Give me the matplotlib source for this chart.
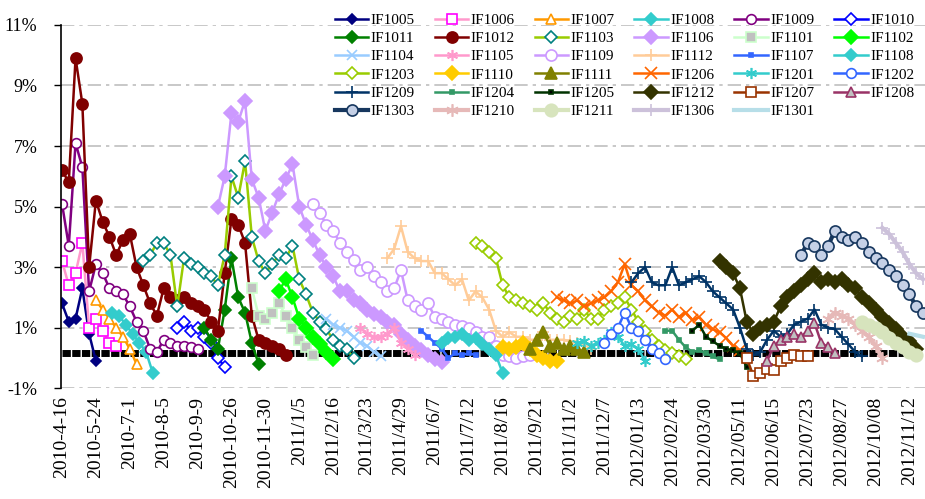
import numpy as np
import matplotlib
matplotlib.use('Agg')
import matplotlib.pyplot as plt

plt.rcParams['font.family'] = ['Liberation Serif', 'DejaVu Serif']

# trading-day index of every 25th session, used as category labels
date_labels = ['2010-4-16', '2010-5-24', '2010-7-1', '2010-8-5', '2010-9-9',
               '2010-10-26', '2010-11-30', '2011/1/5', '2011/2/16', '2011/3/23',
               '2011/4/29', '2011/6/7', '2011/7/12', '2011/8/16', '2011/9/21',
               '2011/11/2', '2011/12/7', '2012/01/13', '2012/02/24', '2012/03/30',
               '2012/05/11', '2012/06/15', '2012/07/23', '2012/08/27', '2012/10/08',
               '2012/11/12']
label_every = 25
STEP = 5   # values below are read every 5 trading days

contracts = ['IF1005', 'IF1006', 'IF1007', 'IF1008', 'IF1009', 'IF1010',
             'IF1011', 'IF1012', 'IF1103', 'IF1106', 'IF1101', 'IF1102',
             'IF1104', 'IF1105', 'IF1109', 'IF1112', 'IF1107', 'IF1108',
             'IF1203', 'IF1110', 'IF1111', 'IF1206', 'IF1201', 'IF1202',
             'IF1209', 'IF1204', 'IF1205', 'IF1212', 'IF1207', 'IF1208',
             'IF1303', 'IF1210', 'IF1211', 'IF1306', 'IF1301']
starts = [0, 0, 25, 37, 0, 85,
          105, 0, 60, 115, 140, 160,
          195, 220, 185, 240, 265, 280,
          305, 325, 345, 365, 380, 400,
          420, 445, 465, 485, 505, 520,
          545, 565, 590, 605, 625]

if1005 = [1.8, 1.2, 1.3, 2.3, 0.8, -0.1]
if1006 = [3.2, 2.4, 2.8, 3.8, 1.0, 1.3, 0.9, 0.5, 0.4]
if1007 = [1.9, 1.6, 1.3, 1.0, 0.7, 0.3, -0.2]
if1008 = [1.5, 1.4, 1.1, 0.8, 0.5, 0.2, -0.5]
if1009 = [5.1, 3.7, 7.1, 6.3, 2.2, 3.1, 2.8, 2.3, 2.2, 2.1, 1.7, 1.2, 0.9, 0.3,
          0.2, 0.6, 0.5, 0.4, 0.4, 0.35, 0.3]
if1010 = [1.0, 1.2, 0.9, 1.0, 0.7, 0.5, 0.0, -0.3]
if1011 = [1.0, 0.6, 0.3, 1.6, 3.3, 2.0, 1.5, 0.5, -0.2]
if1012 = [6.2, 5.8, 9.9, 8.4, 3.0, 5.2, 4.5, 4.0, 3.4, 3.9, 4.1, 3.0, 2.4, 1.8,
          1.4, 2.3, 2.0, 1.9, 2.0, 1.8, 1.7, 1.6, 1.2, 0.9, 2.8, 4.6, 4.4, 3.8,
          1.4, 0.6, 0.5, 0.4, 0.3, 0.1]
if1103 = [3.2, 3.4, 3.8, 3.8, 3.4, 1.7, 3.3, 3.1, 3.0, 2.8, 2.7, 2.4, 3.4, 6.0,
          5.3, 6.5, 4.0, 3.2, 2.8, 3.1, 3.4, 3.3, 3.7, 2.6, 2.1, 1.5, 1.2, 0.95,
          0.6, 0.4, 0.3, 0.0]
if1106 = [5.0, 6.0, 8.1, 7.8, 8.5, 5.9, 5.3, 4.2, 4.8, 5.4, 5.9, 6.4, 5.0, 4.4,
          3.9, 3.4, 3.0, 2.7, 2.2, 2.2, 1.9, 1.8, 1.6, 1.45, 1.35, 1.2, 1.1, 0.8,
          0.6, 0.4, 0.25, 0.1, -0.05, -0.15]
if1101 = [2.3, 1.4, 1.3, 1.5, 1.8, 1.4, 1.0, 0.6, 0.35, 0.1]
if1102 = [2.2, 2.6, 2.0, 1.3, 1.0, 0.7, 0.45, 0.2, -0.05]
if1104 = [1.3, 1.1, 1.0, 0.9, 0.7, 0.5, 0.4, 0.2, 0.05]
if1105 = [1.0, 0.8, 0.7, 0.7, 0.8, 1.0, 0.5, 0.3, 0.1]
if1109 = [5.1, 4.8, 4.4, 4.2, 3.8, 3.5, 3.25, 2.9, 3.0, 2.7, 2.5, 2.2, 2.3, 2.9,
          1.9, 1.7, 1.6, 1.8, 1.35, 1.3, 1.2, 1.1, 1.05, 1.0, 0.85, 0.7, 0.7,
          0.4, 0.1, 0.05, 0.0, 0.05, 0.1]
if1112 = [3.3, 3.6, 4.35, 3.5, 3.3, 3.2, 3.2, 2.8, 2.8, 2.6, 2.4, 2.6, 1.9, 2.2,
          2.0, 1.6, 0.9, 0.7, 0.85, 0.7, 0.7, 0.6, 0.6, 0.85, 0.6, 0.6, 0.6,
          0.55, 0.5, 0.45, 0.3]
if1107 = [0.9, 0.7, 0.5, 0.3, 0.0, 0.15, 0.1, 0.15, 0.1]
if1108 = [0.5, 0.65, 0.7, 0.8, 0.6, 0.65, 0.45, 0.3, 0.1, -0.5]
if1203 = [3.8, 3.7, 3.5, 3.3, 2.4, 2.0, 1.9, 1.8, 1.7, 1.6, 1.8, 1.5, 1.3, 1.2,
          1.4, 1.3, 1.6, 1.3, 1.3, 1.6, 1.7, 1.8, 2.0, 1.6, 1.2, 0.9, 0.6, 0.4,
          0.25, 0.15, 0.05, -0.05]
if1110 = [0.35, 0.3, 0.35, 0.5, 0.3, 0.1, 0.0, -0.1, -0.1]
if1111 = [0.3, 0.6, 0.85, 0.4, 0.5, 0.3, 0.4, 0.3, 0.2]
if1206 = [2.0, 1.9, 1.8, 1.9, 1.7, 1.8, 1.9, 2.0, 2.2, 2.5, 3.1, 2.4, 2.2, 1.9,
          1.7, 1.5, 1.4, 1.6, 1.35, 1.5, 1.25, 1.35, 1.1, 0.95, 0.85, 0.65, 0.4,
          0.25]
if1201 = [0.5, 0.55, 0.4, 0.5, 0.6, 0.85, 0.7, 0.4, 0.45, 0.3, -0.1]
if1202 = [0.5, 0.8, 1.0, 1.5, 1.0, 0.9, 0.6, 0.3, 0.15, -0.05]
if1209 = [2.5, 2.8, 3.0, 2.5, 2.4, 2.4, 3.0, 2.4, 2.5, 2.6, 2.7, 2.5, 2.2, 2.0,
          1.8, 1.6, 1.0, 0.3, 0.1, 0.2, 0.6, 0.9, 0.7, 0.8, 1.1, 1.2, 1.3, 1.6,
          1.1, 1.0, 0.95, 0.7, 0.45, 0.2, 0.05]
if1204 = [0.9, 0.9, 0.6, 0.35, 0.2, 0.25, 0.15, 0.05, -0.05]
if1205 = [0.9, 1.1, 0.7, 0.55, 0.4, 0.3, 0.25, 0.15, -0.3]
if1212 = [3.2, 3.0, 2.8, 2.3, 1.2, 0.8, 1.0, 1.1, 1.2, 1.7, 2.0, 2.2, 2.4, 2.6,
          2.8, 2.5, 2.6, 2.5, 2.6, 2.4, 2.3, 2.0, 1.8, 1.6, 1.35, 1.15, 0.95,
          0.7, 0.55, 0.3]
if1207 = [0.0, -0.6, -0.5, -0.35, -0.4, -0.1, 0.0, 0.1, 0.05, 0.05]
if1208 = [-0.1, 0.4, 0.6, 0.7, 0.8, 0.7, 0.9, 1.15, 0.5, 0.35, 0.15]
if1303 = [3.4, 3.8, 3.7, 3.4, 3.7, 4.2, 4.0, 3.9, 4.0, 3.8, 3.5, 3.3, 3.15, 2.9,
          2.7, 2.4, 2.1, 1.7, 1.5]
if1210 = [1.3, 1.5, 1.4, 1.3, 1.1, 0.9, 0.7, 0.4, 0.0]
if1211 = [1.2, 1.1, 1.0, 0.85, 0.65, 0.5, 0.35, 0.2, 0.1]
if1306 = [4.3, 4.1, 3.8, 3.5, 3.1, 2.8, 2.6]
if1301 = [0.8, 0.75, 0.7]

values = [if1005, if1006, if1007, if1008, if1009, if1010,
          if1011, if1012, if1103, if1106, if1101, if1102,
          if1104, if1105, if1109, if1112, if1107, if1108,
          if1203, if1110, if1111, if1206, if1201, if1202,
          if1209, if1204, if1205, if1212, if1207, if1208,
          if1303, if1210, if1211, if1306, if1301]

# black reference level drawn along the whole period
base_level = 0.15
base_span = [0, 630]

ast = (6, 2, 0)
# line colour, marker, size, face, edge, line width
styles = {
    'IF1005': ('#000080', 'D', 5, '#000080', '#000080', 1.8),
    'IF1006': ('#FF99CC', 's', 7, 'white', '#FF00FF', 1.8),
    'IF1007': ('#FF9900', '^', 7, 'white', '#FF9900', 1.8),
    'IF1008': ('#33CCCC', 'D', 6, '#33CCCC', '#33CCCC', 1.8),
    'IF1009': ('#800080', 'o', 7, 'white', '#800080', 1.8),
    'IF1010': ('#0000FF', 'D', 6, 'white', '#0000FF', 1.8),
    'IF1011': ('#008000', 'D', 6, '#008000', '#008000', 1.8),
    'IF1012': ('#800000', 'o', 8, '#800000', '#800000', 1.8),
    'IF1103': ('#99CC00', 'D', 6, 'white', '#008080', 1.8),
    'IF1106': ('#CC99FF', 'D', 7, '#CC99FF', '#CC99FF', 1.8),
    'IF1101': ('#CCFFCC', 's', 7, '#C0C0C0', '#CCFFCC', 1.8),
    'IF1102': ('#00FF00', 'D', 7, '#00FF00', '#00FF00', 1.8),
    'IF1104': ('#99CCFF', 'x', 7, '#99CCFF', '#99CCFF', 1.8),
    'IF1105': ('#FF99CC', ast, 8, '#FF99CC', '#FF99CC', 1.8),
    'IF1109': ('#CC99FF', 'o', 8, 'white', '#CC99FF', 1.8),
    'IF1112': ('#FFCC99', '+', 9, '#FFCC99', '#FFCC99', 1.8),
    'IF1107': ('#3366FF', 's', 3, '#3366FF', '#3366FF', 1.8),
    'IF1108': ('#33CCCC', 'D', 6, '#33CCCC', '#33CCCC', 1.8),
    'IF1203': ('#99CC00', 'D', 6, 'white', '#99CC00', 1.8),
    'IF1110': ('#FFCC00', 'D', 7, '#FFCC00', '#FFCC00', 1.8),
    'IF1111': ('#808000', '^', 8, '#808000', '#808000', 1.8),
    'IF1206': ('#FF6600', 'x', 8, '#FF6600', '#FF6600', 1.8),
    'IF1201': ('#33CCCC', ast, 8, '#33CCCC', '#33CCCC', 1.8),
    'IF1202': ('#3366FF', 'o', 7, 'white', '#3366FF', 1.8),
    'IF1209': ('#003366', '+', 9, '#003366', '#003366', 1.8),
    'IF1204': ('#339966', 's', 3, '#339966', '#339966', 1.8),
    'IF1205': ('#003300', 's', 3, '#000000', '#003300', 1.8),
    'IF1212': ('#333300', 'D', 7, '#333300', '#333300', 1.8),
    'IF1207': ('#993300', 's', 7, 'white', '#993300', 1.8),
    'IF1208': ('#993366', '^', 7, '#C0C0C0', '#993366', 1.8),
    'IF1303': ('#17375E', 'o', 8, '#C5D0E6', '#17375E', 3.0),
    'IF1210': ('#E6B9B8', ast, 9, '#E6B9B8', '#E6B9B8', 3.0),
    'IF1211': ('#D7E4BD', 'o', 9, '#D7E4BD', '#D7E4BD', 3.0),
    'IF1306': ('#CCC1DA', '+', 9, '#CCC1DA', '#CCC1DA', 3.0),
    'IF1301': ('#B7DEE8', 'None', 0, 'none', 'none', 3.0),
}

fig = plt.figure(figsize=(9.25, 4.99), dpi=100)
ax = fig.add_axes([0.066, 0.222, 0.934, 0.728])

ax.plot(base_span, [base_level, base_level], color='black', lw=5,
        dashes=(1.2, 0.2), solid_capstyle='butt', zorder=1.5)

handles = []
for name, start, vals in zip(contracts, starts, values):
    lc, mk, ms, mfc, mec, lw = styles[name]
    x = start + STEP * np.arange(len(vals))
    h, = ax.plot(x, vals, color=lc, lw=lw, marker=mk, ms=ms,
                 mfc=mfc, mec=mec, mew=1.2, label=name, zorder=2)
    handles.append(h)

ax.set_ylim(-1, 11)
ax.set_yticks(np.arange(-1, 12, 2))
ax.set_yticklabels(['%d%%' % v for v in range(-1, 12, 2)], fontsize=13)
ax.set_xlim(-0.7, 636.5)
ax.set_xticks(np.arange(len(date_labels)) * label_every)
ax.set_xticklabels(date_labels, rotation=90, fontsize=14)
ax.tick_params(axis='x', length=0, pad=6)
ax.tick_params(axis='y', direction='out', length=5, width=1, pad=12)
ax.grid(axis='y', color='#BFBFBF', linestyle='-.', lw=1.2, dashes=(8, 3, 2, 3))
ax.set_axisbelow(True)
for s in ['top', 'right', 'bottom']:
    ax.spines[s].set_visible(False)
ax.spines['left'].set_linewidth(1.2)

# legend is filled row by row in the original
order = [r * 6 + c for c in range(6) for r in range(6) if r * 6 + c < len(handles)]
fig.legend([handles[i] for i in order], [contracts[i] for i in order],
           ncol=6, loc='upper right', bbox_to_anchor=(1.0, 0.995),
           frameon=False, fontsize=11, handlelength=2.2, handletextpad=0.15,
           columnspacing=1.3, labelspacing=0.3, borderpad=0.2, numpoints=1)

fig.savefig('out.png', dpi=100)
